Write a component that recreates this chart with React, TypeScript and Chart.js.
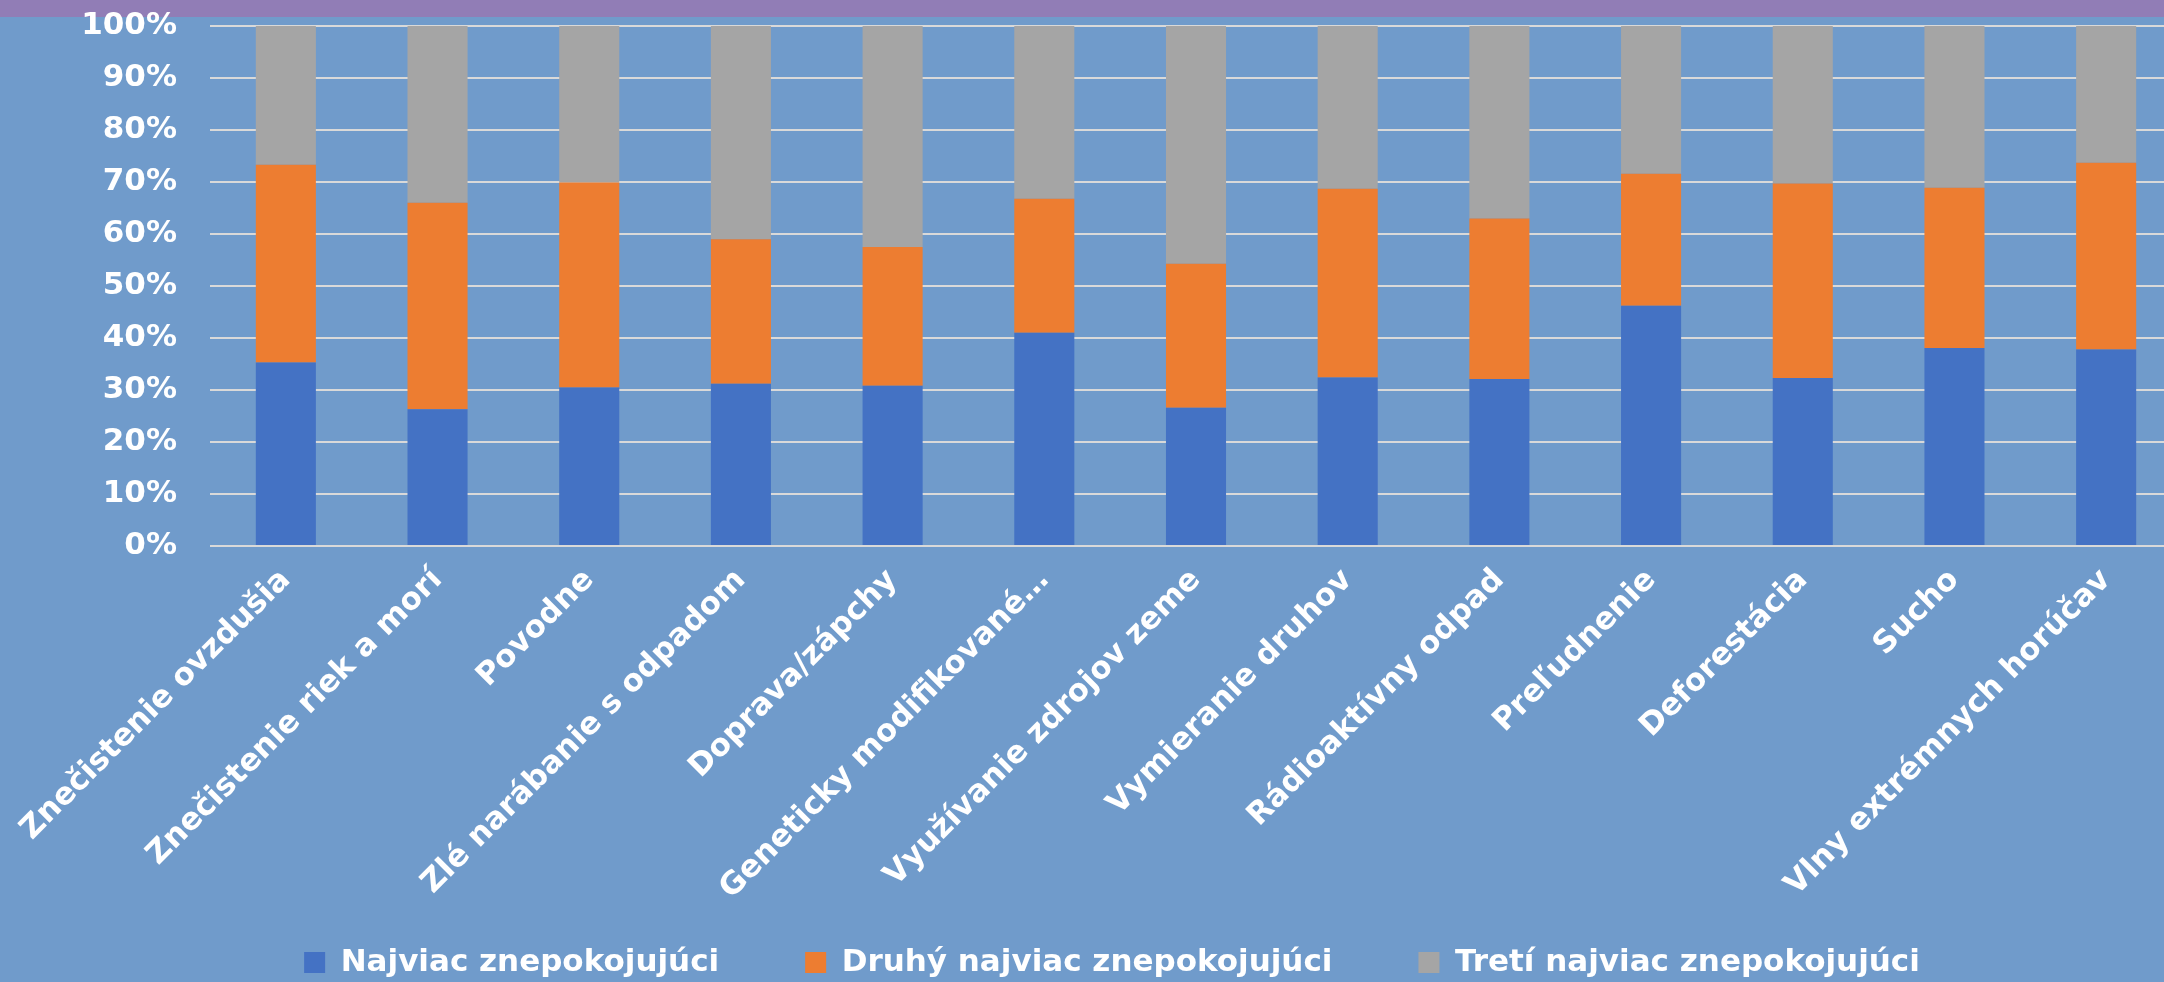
import React, { useEffect, useRef } from "react";
import { Chart, registerables } from "chart.js";

Chart.register(...registerables);

const categories = [
  "Znečistenie ovzdušia",
  "Znečistenie riek a morí",
  "Povodne",
  "Zlé narábanie s odpadom",
  "Doprava/zápchy",
  "Geneticky modifikované…",
  "Využívanie zdrojov zeme",
  "Vymieranie druhov",
  "Rádioaktívny odpad",
  "Preľudnenie",
  "Deforestácia",
  "Sucho",
  "Vlny extrémnych horúčav",
];

const seriesNames = [
  "Najviac znepokojujúci",
  "Druhý najviac znepokojujúci",
  "Tretí najviac znepokojujúci",
];

const first = [35.3, 26.3, 30.5, 31.2, 30.8, 41.0, 26.6, 32.4, 32.1, 46.2, 32.3, 38.1, 37.8];
const second = [38.0, 39.7, 39.4, 27.8, 26.7, 25.8, 27.7, 36.3, 30.9, 25.4, 37.4, 30.8, 35.9];
const third = [26.7, 34.0, 30.1, 41.0, 42.5, 33.2, 45.7, 31.3, 37.0, 28.4, 30.3, 31.1, 26.3];

const yTicks = [0, 10, 20, 30, 40, 50, 60, 70, 80, 90, 100];

const colors = ["#4472c4", "#ed7d31", "#a5a5a5"];
const FONT = "'DejaVu Sans', sans-serif";

const CANVAS_W = 2224;
const CANVAS_H = 988;

export default function App() {
  const ref = useRef<HTMLCanvasElement | null>(null);

  useEffect(() => {
    document.body.style.margin = "0";
    document.body.style.overflow = "hidden";
    const canvas = ref.current;
    if (!canvas) return;

    const bgPlugin = {
      id: "bg",
      beforeDraw(chart: any) {
        const { ctx, width, height } = chart;
        ctx.save();
        ctx.fillStyle = "#709bcb";
        ctx.fillRect(0, 0, width, height);
        ctx.fillStyle = "#917db6";
        ctx.fillRect(0, 0, width, 17);
        ctx.restore();
      },
    };

    const data = [first, second, third];
    const chart = new Chart(canvas, {
      type: "bar",
      data: {
        labels: categories,
        datasets: seriesNames.map((name, i) => ({
          label: name,
          data: data[i],
          backgroundColor: colors[i],
          borderWidth: 0,
          categoryPercentage: 1,
          barPercentage: 0.396,
        })),
      },
      options: {
        responsive: false,
        animation: false,
        layout: { padding: { top: 26, left: 42, right: 42, bottom: 0 } },
        plugins: {
          legend: {
            position: "bottom",
            labels: {
              color: "#ffffff",
              font: { family: FONT, size: 31, weight: "bold" },
              boxWidth: 21,
              boxHeight: 21,
              padding: 86,
            },
          },
          tooltip: { enabled: false },
        },
        scales: {
          x: {
            stacked: true,
            grid: { display: false, drawTicks: false },
            border: { display: false },
            ticks: {
              color: "#ffffff",
              font: { family: FONT, size: 31, weight: "bold" },
              minRotation: 45,
              maxRotation: 45,
              autoSkip: false,
              padding: 16,
            },
            afterFit(s: any) {
              s.height = CANVAS_H - 127 - 546;
              s.paddingLeft = 0;
              s.paddingRight = 0;
              s._computeLabelArea = () => undefined;
            },
          },
          y: {
            stacked: true,
            min: 0,
            max: 100,
            afterBuildTicks(s: any) {
              s.ticks = yTicks.map((v) => ({ value: v }));
            },
            grid: { color: "#d9d9d9", lineWidth: 2, drawTicks: false },
            border: { display: false },
            ticks: {
              color: "#ffffff",
              font: { family: FONT, size: 31, weight: "bold" },
              padding: 33,
              callback: (v: any) => v + "%",
            },
            afterFit(s: any) {
              s.width = 168;
              s.paddingTop = 0;
              s.paddingBottom = 0;
            },
          },
        },
      },
      plugins: [bgPlugin],
    } as any);

    return () => chart.destroy();
  }, []);

  return (
    <div style={{ width: 2164, height: 982, overflow: "hidden", position: "relative", background: "#709bcb" }}>
      <canvas ref={ref} width={CANVAS_W} height={CANVAS_H} style={{ width: CANVAS_W, height: CANVAS_H, display: "block" }} />
    </div>
  );
}
